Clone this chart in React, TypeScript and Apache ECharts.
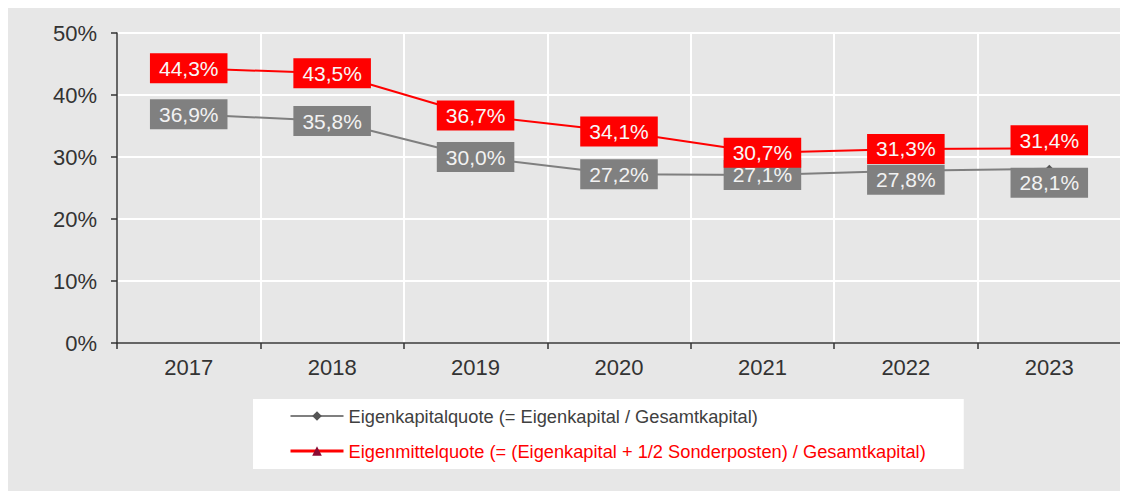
import React, { useEffect, useRef } from "react";
import * as echarts from "echarts";

const years = ["2017", "2018", "2019", "2020", "2021", "2022", "2023"];
const eigenkapitalquote = [36.9, 35.8, 30.0, 27.2, 27.1, 27.8, 28.1];
const eigenmittelquote = [44.3, 43.5, 36.7, 34.1, 30.7, 31.3, 31.4];
const grayLabelOffsets = [0, 0, 0, 0, 0, 9, 14];
const redLabelOffsets = [0, 0, 0, 0, 0, 0, -8];
const seriesNames = [
  "Eigenkapitalquote (= Eigenkapital / Gesamtkapital)",
  "Eigenmittelquote (= (Eigenkapital + 1/2 Sonderposten) / Gesamtkapital)",
];

const FONT = 'Arial, "Liberation Sans", sans-serif';
const fmt = (v: number) => v.toFixed(1).replace(".", ",") + "%";

export default function App() {
  const ref = useRef<HTMLDivElement>(null);
  useEffect(() => {
    if (!ref.current) return;
    const chart = echarts.init(ref.current, undefined, { renderer: "svg" });
    const mkData = (vals: number[], offs: number[]) =>
      vals.map((v, i) => ({
        value: v,
        label: { offset: [0, offs[i]] },
      }));
    chart.setOption({
      animation: false,
      backgroundColor: "#e7e7e7",
      textStyle: { fontFamily: FONT },
      grid: { left: 109, right: 7, top: 25, bottom: 148 },
      legend: {
        orient: "vertical",
        left: 245,
        top: 391,
        backgroundColor: "#ffffff",
        padding: [7, 38, 8, 36],
        itemGap: 15,
        itemWidth: 53,
        itemHeight: 12,
        textStyle: { fontSize: 18.25, lineHeight: 20, fontFamily: FONT },
        data: [
          { name: seriesNames[0], textStyle: { color: "#404040" }, lineStyle: { width: 2 } },
          { name: seriesNames[1], textStyle: { color: "#ff0000" }, lineStyle: { width: 3 } },
        ],
      },
      xAxis: {
        type: "category",
        data: years,
        boundaryGap: true,
        axisLine: { lineStyle: { color: "#333333", width: 1.5 } },
        axisTick: { show: true, length: 6, lineStyle: { color: "#333333", width: 1.5 } },
        axisLabel: { color: "#333333", fontSize: 22, margin: 13, fontFamily: FONT },
        splitLine: { show: true, lineStyle: { color: "#ffffff", width: 2 } },
      },
      yAxis: {
        type: "value",
        min: 0,
        max: 50,
        interval: 10,
        axisLine: { show: true, lineStyle: { color: "#333333", width: 1.5 } },
        axisTick: { show: true, length: 6, lineStyle: { color: "#333333", width: 1.5 } },
        axisLabel: {
          color: "#333333",
          fontSize: 22,
          margin: 20,
          fontFamily: FONT,
          formatter: "{value}%",
        },
        splitLine: { show: true, lineStyle: { color: "#ffffff", width: 2 } },
      },
      series: [
        {
          name: seriesNames[0],
          type: "line",
          data: mkData(eigenkapitalquote, grayLabelOffsets),
          symbol: "diamond",
          symbolSize: 8,
          showAllSymbol: true,
          itemStyle: { color: "#555555" },
          lineStyle: { color: "#7f7f7f", width: 2 },
          label: {
            show: true,
            position: "inside",
            formatter: (p: any) => fmt(p.value),
            backgroundColor: "#808080",
            color: "#f2f2f2",
            fontSize: 21,
            fontFamily: FONT,
            padding: [5, 9, 4, 9],
          },
          z: 2,
        },
        {
          name: seriesNames[1],
          type: "line",
          data: mkData(eigenmittelquote, redLabelOffsets),
          symbol: "triangle",
          symbolSize: 8,
          showAllSymbol: true,
          itemStyle: { color: "#8b0a32" },
          lineStyle: { color: "#ff0000", width: 2 },
          label: {
            show: true,
            position: "inside",
            formatter: (p: any) => fmt(p.value),
            backgroundColor: "#ff0000",
            color: "#f7f7f7",
            fontSize: 21,
            fontFamily: FONT,
            padding: [5, 9, 4, 9],
          },
          z: 3,
        },
      ],
    });
    return () => chart.dispose();
  }, []);
  return <div ref={ref} style={{ width: 1120, height: 483 }} />;
}
